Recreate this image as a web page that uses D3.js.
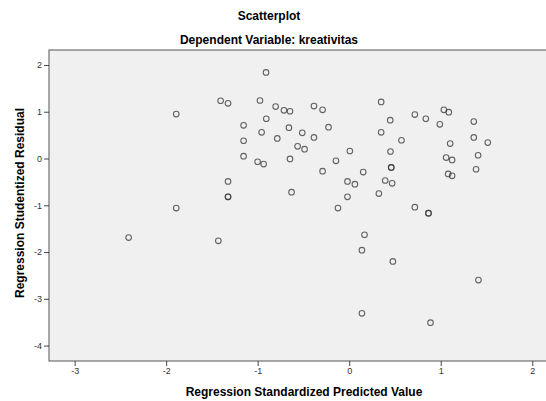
<!DOCTYPE html>
<html>
<head>
<meta charset="utf-8">
<script src="https://cdn.jsdelivr.net/npm/d3@7"></script>
<style>
  body { margin: 0; background: #fff; }
  text { font-family: "Liberation Sans", Arial, sans-serif; }
</style>
</head>
<body>
<svg id="chart" width="546" height="401"></svg>
<script>
// Regression standardized predicted value (x) vs studentized residual (y).
// Repeated pairs are cases that overlap on the plot.
const predicted = [
  -2.41, -1.89, -1.89, -1.43, -1.405, -1.324, -1.324, -1.324, -1.324,
  -1.154, -1.154, -1.154, -1.001, -0.975, -0.957, -0.935, -0.909, -0.906,
  -0.804, -0.786, -0.713, -0.659, -0.647, -0.647, -0.630, -0.564, -0.513,
  -0.488, -0.385, -0.385, -0.291, -0.291, -0.226, -0.145, -0.123, -0.019,
  -0.019, 0.007, 0.062, 0.139, 0.139, 0.153, 0.167, 0.324, 0.349, 0.349,
  0.393, 0.448, 0.451, 0.459, 0.459, 0.469, 0.477, 0.571, 0.717, 0.717,
  0.837, 0.866, 0.866, 0.888, 0.990, 1.034, 1.059, 1.081, 1.088, 1.103,
  1.124, 1.124, 1.361, 1.361, 1.386, 1.408, 1.412, 1.514
];
const residual = [
  -1.69, 0.95, -1.06, -1.76, 1.235, 1.18, -0.49, -0.82, -0.82,
  0.71, 0.38, 0.05, -0.07, 1.24, 0.56, -0.12, 1.84, 0.85,
  1.11, 0.43, 1.03, 0.66, 1.01, -0.01, -0.72, 0.26, 0.55,
  0.20, 1.12, 0.45, 1.04, -0.27, 0.67, -0.05, -1.06, -0.49,
  -0.82, 0.16, -0.55, -1.96, -3.31, -0.29, -1.63, -0.75, 1.21, 0.56,
  -0.47, 0.82, 0.15, -0.19, -0.19, -0.53, -2.20, 0.39, 0.94, -1.04,
  0.85, -1.17, -1.17, -3.51, 0.73, 1.04, 0.02, -0.33, 0.99, 0.32,
  -0.03, -0.37, 0.79, 0.45, -0.23, 0.07, -2.60, 0.34
];
const xTicks = [-3, -2, -1, 0, 1, 2];
const yTicks = [-4, -3, -2, -1, 0, 1, 2];

const svg = d3.select("#chart");

// Plot box: left / top / bottom edges; the right edge runs off the picture.
const boxL = 49, boxT = 50, boxB = 361, boxR = 546;

const x = d3.scaleLinear().domain([-3.28, 2.15]).range([boxL, boxR]);
const y = d3.scaleLinear().domain([-4.33, 2.32]).range([boxB, boxT]);

svg.append("rect")
  .attr("x", boxL).attr("y", boxT)
  .attr("width", boxR - boxL + 4).attr("height", boxB - boxT)
  .attr("fill", "#f0f0f0")
  .attr("stroke", "#555")
  .attr("stroke-width", 1);

// Axes — short outward ticks, no domain line (the box draws it).
const xAxis = svg.append("g")
  .attr("transform", `translate(0,${boxB})`)
  .call(d3.axisBottom(x).tickValues(xTicks).tickSize(5).tickPadding(2));
const yAxis = svg.append("g")
  .attr("transform", `translate(${boxL},0)`)
  .call(d3.axisLeft(y).tickValues(yTicks).tickSize(5).tickPadding(2));

[xAxis, yAxis].forEach(a => {
  a.select(".domain").remove();
  a.selectAll(".tick line").attr("stroke", "#444");
  a.selectAll(".tick text")
    .attr("fill", "#333")
    .attr("font-size", 9)
    .attr("font-family", "'Liberation Sans', Arial, sans-serif")
    .text(d => String(d)); // plain hyphen for negatives, as in the reference
});

// Points — open circles, slightly translucent so overlapping cases darken.
svg.append("g")
  .selectAll("circle")
  .data(predicted.map((p, i) => [p, residual[i]]))
  .join("circle")
  .attr("cx", d => x(d[0]))
  .attr("cy", d => y(d[1]))
  .attr("r", 2.8)
  .attr("fill", "none")
  .attr("stroke", "#333")
  .attr("stroke-opacity", 0.75)
  .attr("stroke-width", 1.1);

// Titles.
svg.append("text")
  .attr("x", 269).attr("y", 20)
  .attr("text-anchor", "middle")
  .attr("font-size", 12).attr("font-weight", "bold")
  .text("Scatterplot");

svg.append("text")
  .attr("x", 269).attr("y", 44)
  .attr("text-anchor", "middle")
  .attr("font-size", 12).attr("font-weight", "bold")
  .text("Dependent Variable: kreativitas");

svg.append("text")
  .attr("x", 304).attr("y", 396)
  .attr("text-anchor", "middle")
  .attr("font-size", 12).attr("font-weight", "bold")
  .text("Regression Standardized Predicted Value");

svg.append("text")
  .attr("transform", "translate(24,203) rotate(-90)")
  .attr("text-anchor", "middle")
  .attr("font-size", 12).attr("font-weight", "bold")
  .text("Regression Studentized Residual");
</script>
</body>
</html>
